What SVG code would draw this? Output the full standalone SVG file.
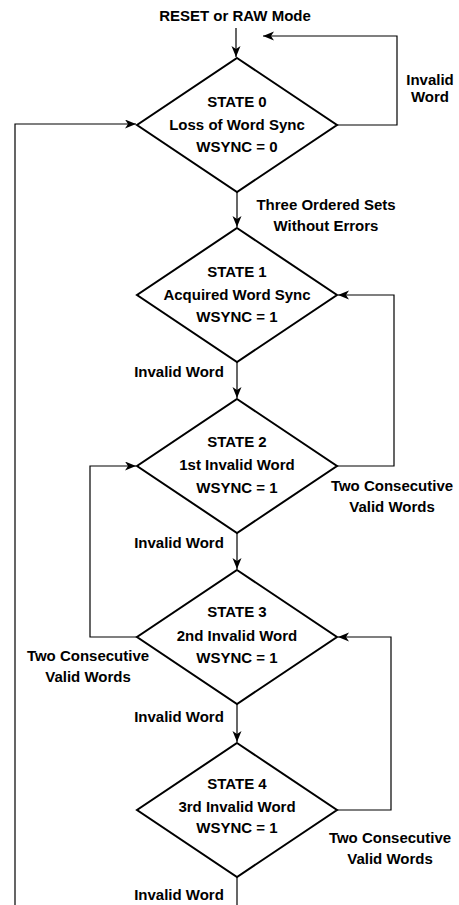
<svg xmlns="http://www.w3.org/2000/svg" width="459" height="905" viewBox="0 0 459 905">
<defs>
<marker id="ah" markerUnits="userSpaceOnUse" markerWidth="12" markerHeight="10" refX="11" refY="4.5" orient="auto">
<path d="M0,0 L11,4.5 L0,9 L3,4.5 z" fill="#000"/>
</marker>
</defs>
<style>
text{font-family:"Liberation Sans",Arial,sans-serif;font-weight:bold;font-size:15px;fill:#000;text-anchor:middle}
.d{fill:#fff;stroke:#000;stroke-width:2}
.c{fill:none;stroke:#000;stroke-width:1.2}
</style>
<rect width="459" height="905" fill="#fff"/>
<g id="connectors">
<path class="c" d="M236,28 V57" marker-end="url(#ah)"/>
<path class="c" d="M337,125 H397 V36 H263" marker-end="url(#ah)"/>
<path class="c" d="M15,905 V124 H136" marker-end="url(#ah)"/>
<path class="c" d="M237,192 V227" marker-end="url(#ah)"/>
<path class="c" d="M337,466 H394 V295 H338" marker-end="url(#ah)"/>
<path class="c" d="M237,362 V398" marker-end="url(#ah)"/>
<path class="c" d="M137,637 H90 V466 H136" marker-end="url(#ah)"/>
<path class="c" d="M237,533 V569" marker-end="url(#ah)"/>
<path class="c" d="M337,810 H391 V637 H338" marker-end="url(#ah)"/>
<path class="c" d="M237,704 V742" marker-end="url(#ah)"/>
<path class="c" d="M237,877 V905"/>
</g>
<g id="labels">
<text x="235" y="21">RESET or RAW Mode</text>
<text x="430" y="85">Invalid</text>
<text x="430" y="102">Word</text>
<text x="326" y="210">Three Ordered Sets</text>
<text x="326" y="231">Without Errors</text>
<text x="179" y="377">Invalid Word</text>
<text x="392" y="491">Two Consecutive</text>
<text x="392" y="512">Valid Words</text>
<text x="179" y="548">Invalid Word</text>
<text x="88" y="661">Two Consecutive</text>
<text x="88" y="682">Valid Words</text>
<text x="179" y="722">Invalid Word</text>
<text x="390" y="843">Two Consecutive</text>
<text x="390" y="864">Valid Words</text>
<text x="179" y="900">Invalid Word</text>
</g>
<g id="state0">
<path class="d" d="M237,58 L337,125 L237,192 L137,125 Z"/>
<text x="237" y="107">STATE 0</text>
<text x="237" y="130">Loss of Word Sync</text>
<text x="237" y="152">WSYNC = 0</text>
</g>
<g id="state1">
<path class="d" d="M237,228 L337,295 L237,362 L137,295 Z"/>
<text x="237" y="277">STATE 1</text>
<text x="237" y="300">Acquired Word Sync</text>
<text x="237" y="322">WSYNC = 1</text>
</g>
<g id="state2">
<path class="d" d="M237,399 L337,466 L237,533 L137,466 Z"/>
<text x="237" y="447">STATE 2</text>
<text x="237" y="470">1st Invalid Word</text>
<text x="237" y="493">WSYNC = 1</text>
</g>
<g id="state3">
<path class="d" d="M237,570 L337,637 L237,704 L137,637 Z"/>
<text x="237" y="617">STATE 3</text>
<text x="237" y="641">2nd Invalid Word</text>
<text x="237" y="663">WSYNC = 1</text>
</g>
<g id="state4">
<path class="d" d="M237,743 L337,810 L237,877 L137,810 Z"/>
<text x="237" y="789">STATE 4</text>
<text x="237" y="812">3rd Invalid Word</text>
<text x="237" y="833">WSYNC = 1</text>
</g>
</svg>
